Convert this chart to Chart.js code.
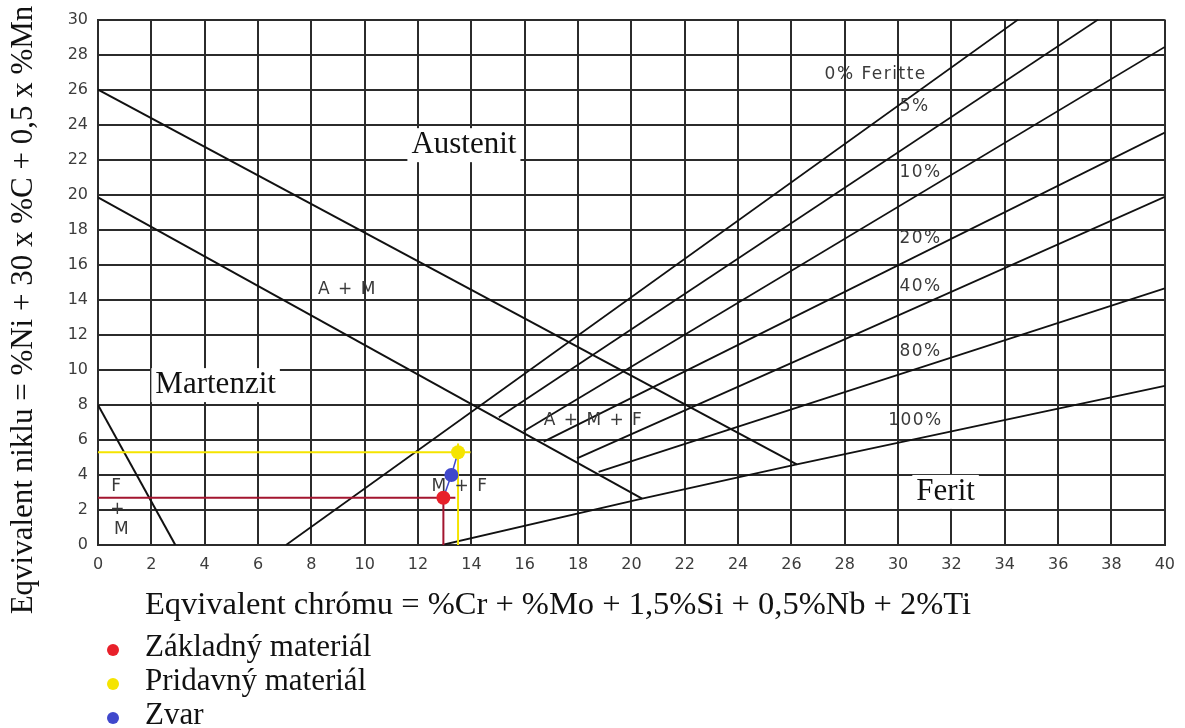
<!DOCTYPE html>
<html>
<head>
<meta charset="utf-8">
<title>Schaefflerov diagram</title>
<script src="https://cdn.jsdelivr.net/npm/chart.js@4.4.1/dist/chart.umd.min.js"></script>
<style>
  html, body { margin: 0; background: #fff; }
  canvas { display: block; }
</style>
</head>
<body>
<canvas id="schaeffler" width="1185" height="728"></canvas>
<script>
// Phase boundaries, [Cr eq, Ni eq] pairs
const austeniteBorder = [[0, 26], [26.2, 4.6]]
const martensiteBorder = [[0, 19.85], [20.4, 2.65]]
const ferriteMartensiteBorder = [[0, 8], [2.9, 0]]

// Iso-ferrite lines
const ferriteLabels = ["0% Feritte", "5%", "10%", "20%", "40%", "80%", "100%"]
const ferriteLines = [
  [[7.05, 0], [34.5, 30]],
  [[15.03, 7.3], [37.5, 30]],
  [[15.96, 6.5], [40, 28.44]],
  [[16.71, 5.9], [40, 23.55]],
  [[17.96, 4.95], [40, 19.88]],
  [[18.77, 4.18], [40, 14.65]],
  [[12.9, 0], [20.4, 2.65], [26.2, 4.6], [40, 9.08]]
]
const ferriteLabelCr = [29.16, 30.62, 30.84, 30.84, 30.84, 30.84, 30.65]
const ferriteLabelNi = [26.88, 25.06, 21.29, 17.52, 14.73, 11.02, 7.13]

// Region names
const regionLabels = ["Austenit", "Martenzit", "Ferit"]
const regionCr = [13.72, 4.41, 31.78]
const regionNi = [22.83, 9.13, 3.03]

const phaseLabels = ["A + M", "A + M + F", "M + F", "F", "+", "M"]
const phaseCr = [9.35, 18.58, 13.57, 0.71, 0.75, 0.9]
const phaseNi = [14.61, 7.08, 3.31, 3.31, 2.0, 0.86]

// Measured materials
const materials = ["Základný materiál", "Pridavný materiál", "Zvar"]
const materialCr = [12.95, 13.5, 13.25]
const materialNi = [2.7, 5.3, 4.0]
const materialColors = ["#e8202a", "#f5e400", "#4048cc"]

// How far the reading lines of base and filler run past their point
const baseGuideEndCr = 13.4
const fillerGuideEndCr = 13.97
const fillerGuideTopNi = 5.8

const xTitle = "Eqvivalent chrómu = %Cr + %Mo + 1,5%Si + 0,5%Nb + 2%Ti"
const yTitle = "Eqvivalent niklu = %Ni + 30 x %C + 0,5 x %Mn"

const SERIF = '31px "Liberation Serif", "Times New Roman", serif'
const SANS = '17px "DejaVu Sans", sans-serif'
const GRID = "#2b2b2b"

const toPoints = (pairs) => pairs.map(([x, y]) => ({ x, y }))

function lineSet(pairs, color, width) {
  return { data: toPoints(pairs), showLine: true, borderColor: color, borderWidth: width, pointRadius: 0, fill: false }
}

const datasets = []

// points on top, so they come first
materials.forEach((name, i) => {
  datasets.push({
    label: name,
    data: [{ x: materialCr[i], y: materialNi[i] }],
    backgroundColor: materialColors[i],
    borderWidth: 0,
    pointRadius: 7
  })
})

// dilution line base -> weld -> filler
datasets.push(lineSet([[materialCr[0], materialNi[0]], [materialCr[2], materialNi[2]], [materialCr[1], materialNi[1]]], "#4048cc", 1.5))

// reading lines
datasets.push(lineSet([[0, materialNi[0]], [baseGuideEndCr, materialNi[0]]], "#a3152f", 2))
datasets.push(lineSet([[materialCr[0], 0], [materialCr[0], materialNi[0]]], "#a3152f", 2))
datasets.push(lineSet([[0, materialNi[1]], [fillerGuideEndCr, materialNi[1]]], "#f5e400", 2))
datasets.push(lineSet([[materialCr[1], 0], [materialCr[1], fillerGuideTopNi]], "#f5e400", 2))

datasets.push(lineSet(austeniteBorder, "#111", 2))
datasets.push(lineSet(martensiteBorder, "#111", 2))
datasets.push(lineSet(ferriteMartensiteBorder, "#111", 2))
ferriteLines.forEach((line) => datasets.push(lineSet(line, "#111", 1.8)))

const diagramText = {
  id: "diagramText",
  afterDraw(chart) {
    const { ctx, scales: { x, y } } = chart
    ctx.save()
    ctx.textAlign = "center"
    ctx.textBaseline = "middle"

    ctx.font = SERIF
    regionLabels.forEach((text, i) => {
      const px = x.getPixelForValue(regionCr[i])
      const py = y.getPixelForValue(regionNi[i])
      const w = ctx.measureText(text).width
      ctx.fillStyle = "#fff"
      ctx.fillRect(px - w / 2 - 4, py - 17, w + 8, 34)
      ctx.fillStyle = "#111"
      ctx.fillText(text, px, py)
    })

    ctx.font = SANS
    ctx.letterSpacing = "1.5px"
    ctx.fillStyle = "#3a3a3a"
    phaseLabels.forEach((text, i) => {
      ctx.fillText(text, x.getPixelForValue(phaseCr[i]), y.getPixelForValue(phaseNi[i]))
    })
    ferriteLabels.forEach((text, i) => {
      ctx.fillText(text, x.getPixelForValue(ferriteLabelCr[i]), y.getPixelForValue(ferriteLabelNi[i]))
    })
    ctx.letterSpacing = "0px"

    // axis titles
    ctx.fillStyle = "#111"
    ctx.font = '32.5px "Liberation Serif", "Times New Roman", serif'
    ctx.fillText(xTitle, 558, 605)
    ctx.font = SERIF
    ctx.save()
    ctx.translate(24, 310)
    ctx.rotate(-Math.PI / 2)
    ctx.fillText(yTitle, 0, 0)
    ctx.restore()

    // legend
    ctx.textAlign = "left"
    materials.forEach((name, i) => {
      const rowY = 648 + i * 34
      ctx.fillStyle = materialColors[i]
      ctx.beginPath()
      ctx.arc(113, rowY + 2, 6, 0, Math.PI * 2)
      ctx.fill()
      ctx.fillStyle = "#111"
      ctx.fillText(name, 145, rowY)
    })
    ctx.restore()
  }
}

const axisCommon = {
  type: "linear",
  ticks: { stepSize: 2, padding: 10, color: "#3c3c3c", font: { family: '"DejaVu Sans", sans-serif', size: 16 } },
  grid: { color: GRID, lineWidth: 2, drawTicks: false },
  border: { color: GRID, width: 2 }
}

new Chart(document.getElementById("schaeffler"), {
  type: "scatter",
  data: { datasets },
  options: {
    responsive: false,
    animation: false,
    layout: { padding: { top: 19, right: 17, left: 0, bottom: 0 } },
    plugins: { legend: { display: false }, tooltip: { enabled: false } },
    scales: {
      x: { ...axisCommon, min: 0, max: 40, afterFit: (scale) => { scale.height = 183 } },
      y: { ...axisCommon, min: 0, max: 30, afterFit: (scale) => { scale.width = 98 } }
    }
  },
  plugins: [diagramText]
})
</script>
</body>
</html>
